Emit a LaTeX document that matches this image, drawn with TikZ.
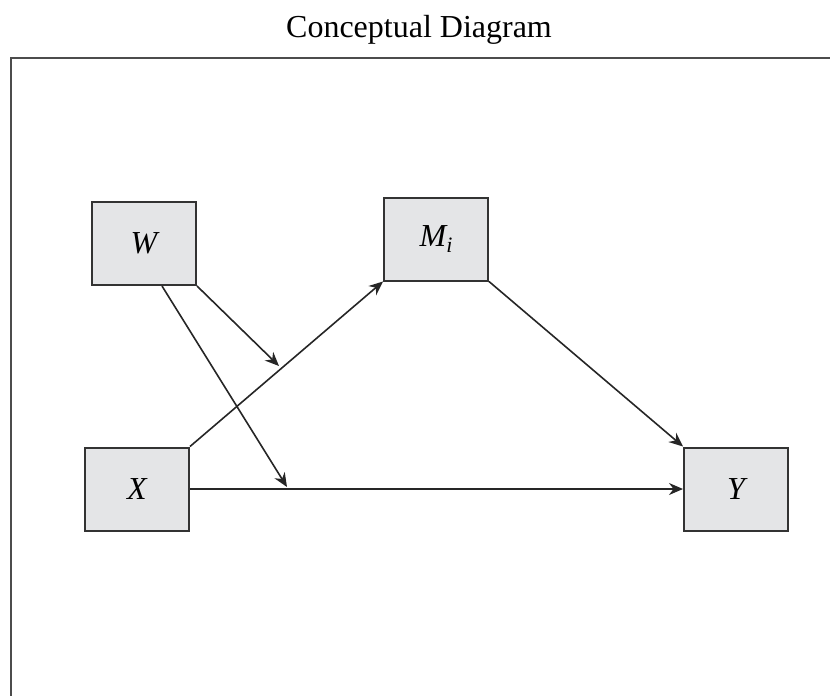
\documentclass[tikz,border=0pt]{standalone}
\usepackage{fontspec}
\setmainfont{Liberation Serif}
\usetikzlibrary{arrows.meta}
\definecolor{boxgray}{RGB}{228,229,231}
\tikzset{
  var/.style={draw=black!80, line width=1pt, fill=boxgray, minimum width=52pt, minimum height=41.5pt, inner sep=0pt, font=\fontsize{16}{19}\selectfont\itshape},
  effect/.style={draw=black!85, line width=0.8pt, -{Stealth[length=7pt,width=6pt]}}
}
\begin{document}
\begin{tikzpicture}[x=0.5pt,y=-0.5pt]
  \useasboundingbox (0,0) rectangle (830,696);
  \node [anchor=base, font=\fontsize{16}{19}\selectfont] (title) at (419,37) {Conceptual Diagram};
  \draw [black!70, line width=1.3pt] (830,58) -- (11,58) -- (11,696);

  \node [var] (W) at (144,243.5) {W};
  \node [var] (M) at (436,239) {M\raisebox{-0.35ex}{\fontsize{11}{13}\selectfont i}};
  \node [var] (X) at (137,489) {X};
  \node [var] (Y) at (736,489) {Y};

  \coordinate (onXM) at (279,366);
  \coordinate (onXY) at (287,487);

  \draw [effect] (X.north east) -- (M.south west);
  \draw [effect] (M.south east) -- (Y.north west);
  \draw [effect] (X.east) -- (Y.west);
  \draw [effect] (W.south east) -- (onXM);
  \draw [effect] ([xshift=9pt]W.south) -- (onXY);
\end{tikzpicture}
\end{document}
